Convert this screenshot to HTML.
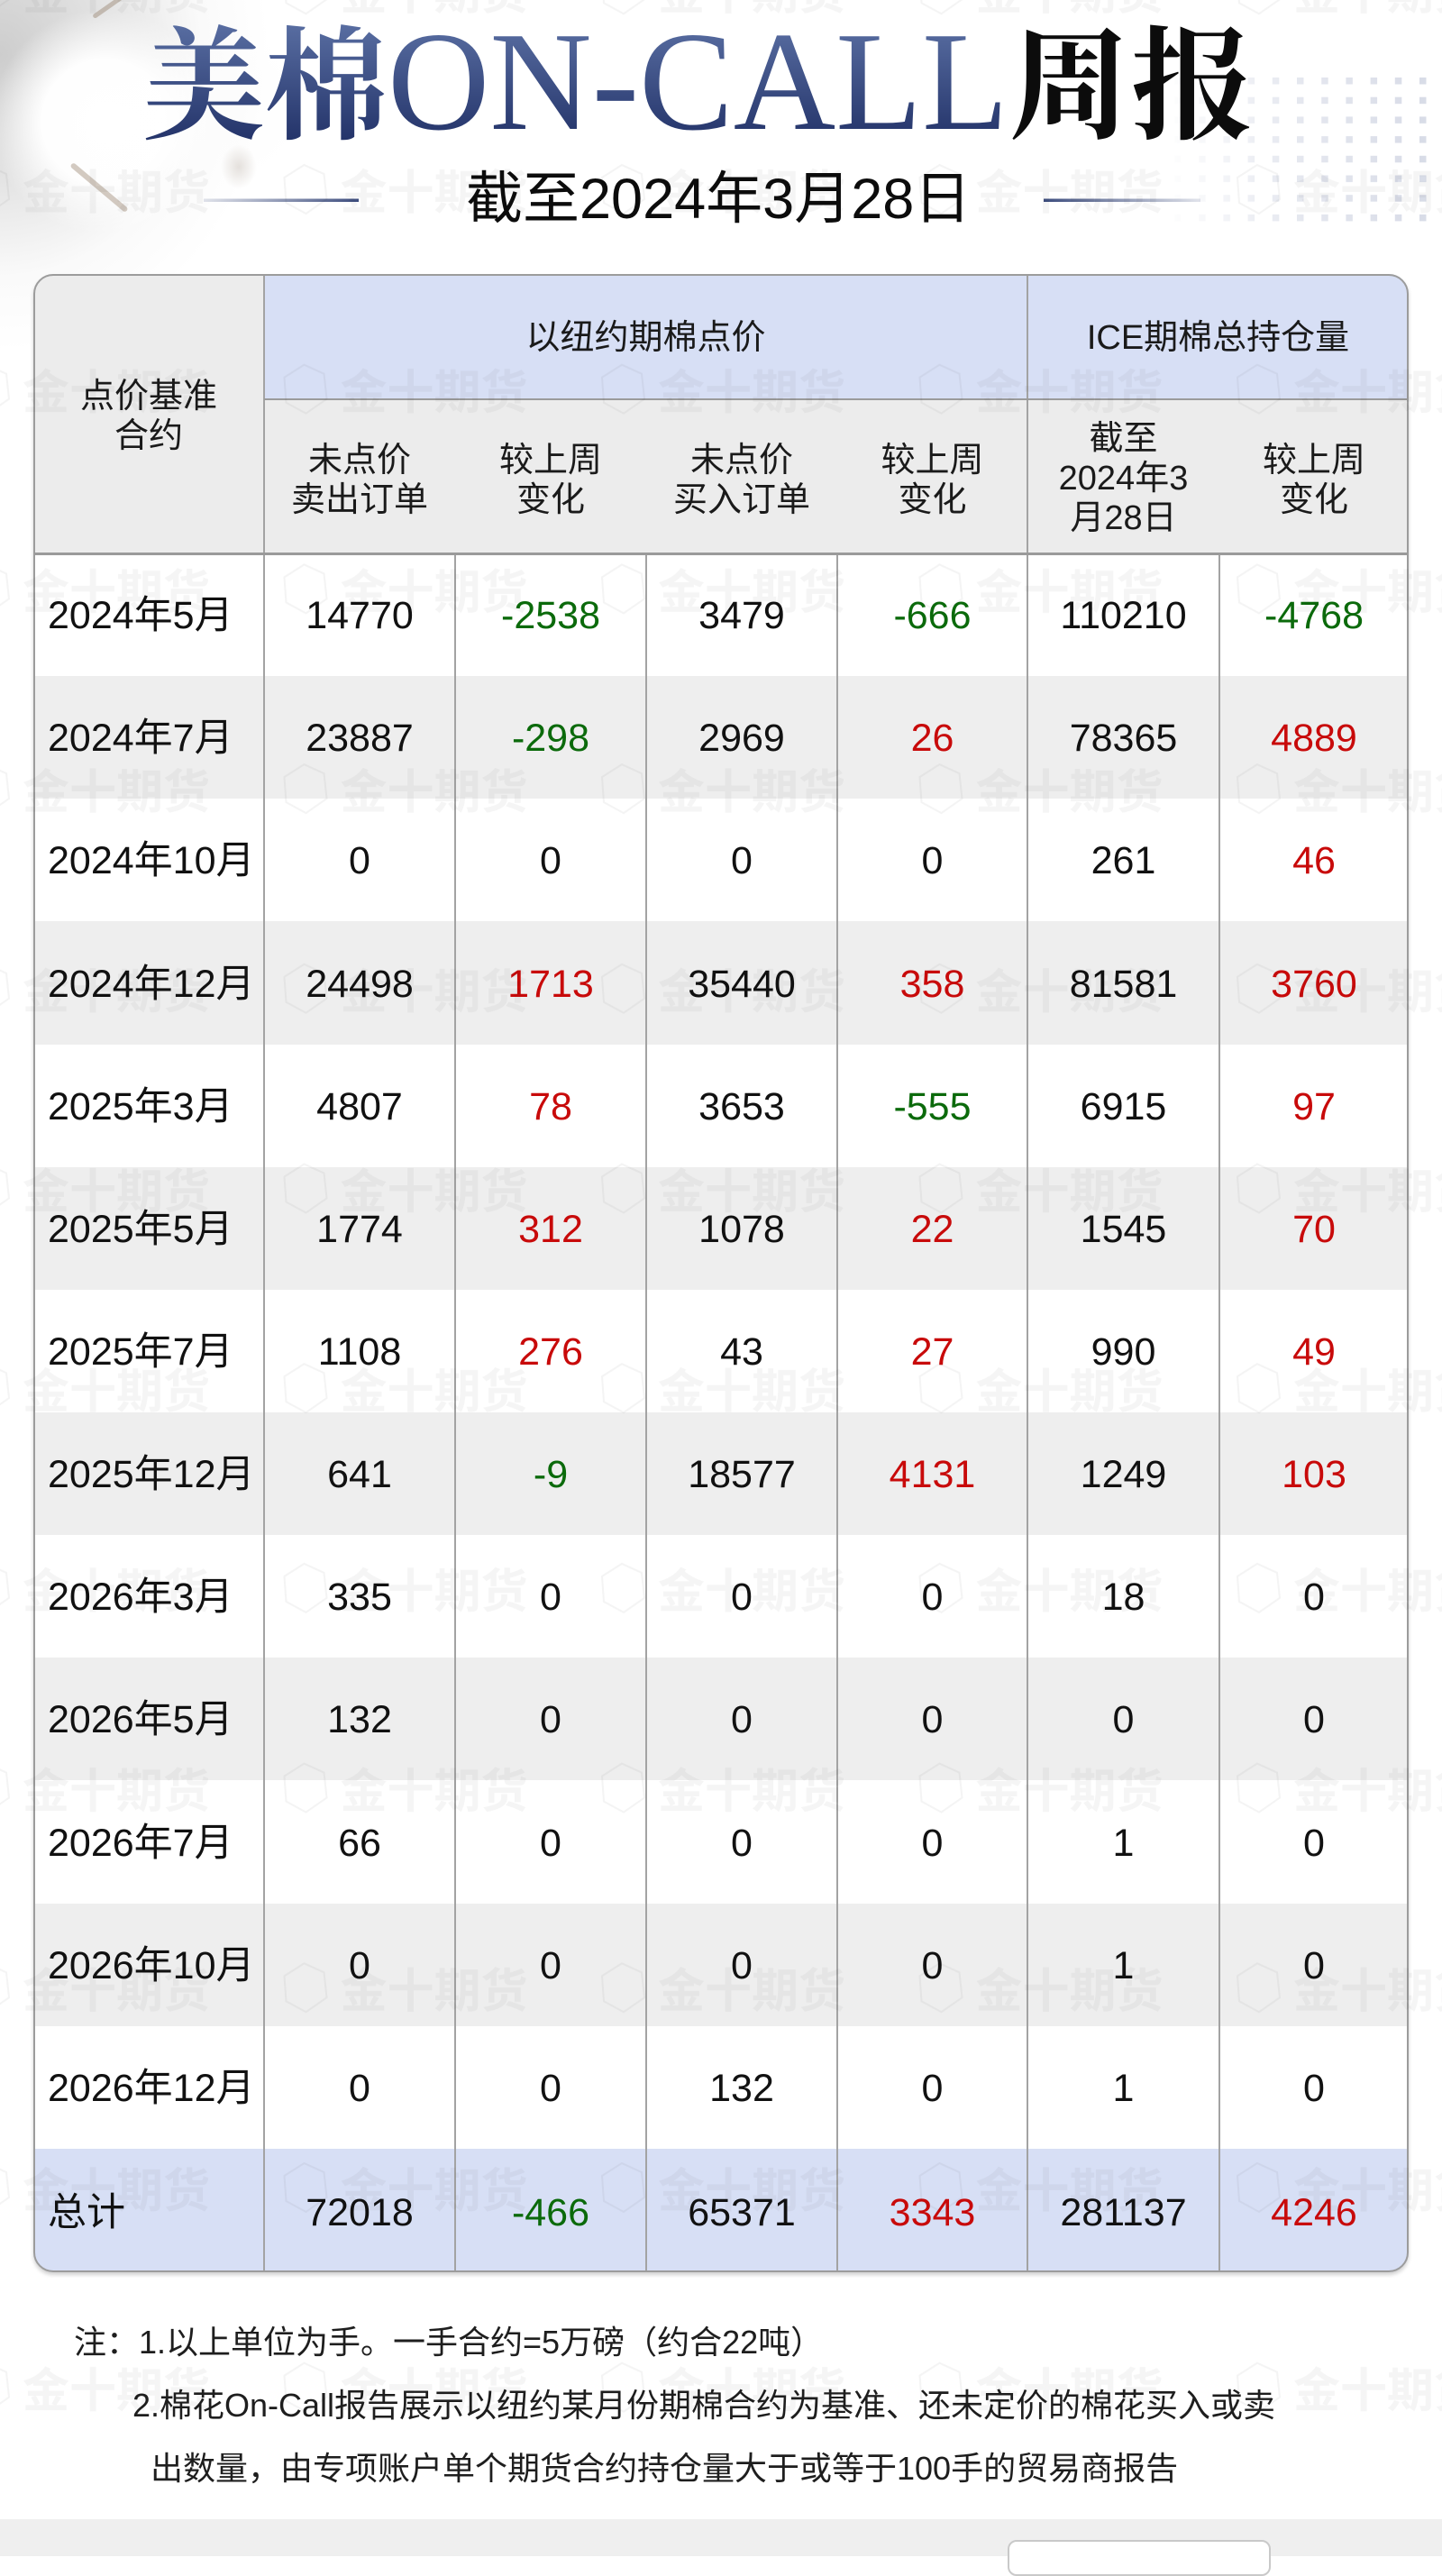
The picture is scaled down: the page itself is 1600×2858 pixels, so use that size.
<!DOCTYPE html>
<html>
<head>
<meta charset="utf-8">
<style>
  html,body{margin:0;padding:0;}
  body{width:1600px;height:2836px;position:relative;overflow:hidden;background:#fff;
       font-family:"Liberation Sans","Noto Sans CJK SC",sans-serif;color:#111;}
  .abs{position:absolute;}
  #clip{position:absolute;left:37px;top:304px;width:1526px;height:2217px;border-radius:22px;overflow:hidden;background:#fff;}
  .row{position:absolute;left:0;width:1526px;height:136.15px;display:grid;
       grid-template-columns:256px 212px 212px 212px 211px 213px 210px;}
  .row>div{display:flex;align-items:center;justify-content:center;font-size:43px;line-height:43px;color:#111;white-space:nowrap;padding-top:3px;}
  .row>div:first-child{justify-content:flex-start;padding-left:16px;}
  .w{background:#fff;}
  .k{background:#eeeeee;}
  .b{background:#d7dff5;}
  .g{color:#0b6a0b !important;}
  .r{color:#c80a0a !important;}
  .hc{position:absolute;display:flex;align-items:center;justify-content:center;text-align:center;
      font-size:38px;line-height:44px;color:#1a1a1a;box-sizing:border-box;}
  .vl{position:absolute;width:2px;background:#a3a3a3;}
  #border{position:absolute;left:37px;top:304px;width:1526px;height:2217px;box-sizing:border-box;
          border:2px solid #9c9c9c;border-radius:22px;box-shadow:0 3px 4px rgba(0,0,0,0.18);}
  .note{position:absolute;font-size:36px;color:#1e1e1e;white-space:nowrap;line-height:40px;}
</style>
</head>
<body>

<!-- cotton image approximation top-left -->
<div class="abs" style="left:0;top:0;width:480px;height:480px;
  background:
   radial-gradient(circle 125px at 115px 135px, rgba(255,255,255,1) 0, rgba(255,255,255,0.97) 55%, rgba(255,255,255,0) 100%),
   radial-gradient(ellipse 110px 90px at 230px 120px, rgba(252,252,252,0.9) 0, rgba(255,255,255,0) 100%),
   radial-gradient(ellipse 300px 330px at 0px 60px, rgba(205,205,205,1) 0, rgba(225,225,225,0.85) 45%, rgba(245,245,245,0.5) 75%, rgba(255,255,255,0) 100%);"></div>
<div class="abs" style="left:70px;top:205px;width:80px;height:6px;background:rgba(160,140,120,0.45);transform:rotate(40deg);border-radius:3px;"></div>
<div class="abs" style="left:100px;top:5px;width:40px;height:5px;background:rgba(150,130,110,0.45);transform:rotate(-35deg);border-radius:3px;"></div>
<div class="abs" style="left:245px;top:160px;width:40px;height:50px;background:radial-gradient(rgba(190,180,170,0.4),rgba(255,255,255,0) 70%);"></div>

<!-- header svg -->
<svg class="abs" style="left:0;top:0" width="1600" height="300" viewBox="0 0 1600 300">
  <defs>
    <linearGradient id="tg" x1="0" y1="20" x2="0" y2="155" gradientUnits="userSpaceOnUse">
      <stop offset="0" stop-color="#5b70a4"/>
      <stop offset="1" stop-color="#24346a"/>
    </linearGradient>
    <pattern id="dots" x="1303" y="86" width="27.2" height="21.7" patternUnits="userSpaceOnUse">
      <rect x="0" y="0" width="7.5" height="7.5" fill="#d6dae6"/>
    </pattern>
    <linearGradient id="fadeL" x1="0" y1="0" x2="1" y2="0">
      <stop offset="0" stop-color="#fff" stop-opacity="0"/>
      <stop offset="0.45" stop-color="#fff" stop-opacity="0.6"/>
      <stop offset="1" stop-color="#fff" stop-opacity="1"/>
    </linearGradient>
    <mask id="dm">
      <rect x="1290" y="80" width="310" height="175" fill="url(#fadeL)"/>
    </mask>
    <linearGradient id="ll" x1="226" y1="0" x2="398" y2="0" gradientUnits="userSpaceOnUse">
      <stop offset="0" stop-color="#3d4d7e" stop-opacity="0.15"/>
      <stop offset="1" stop-color="#3d4d7e" stop-opacity="1"/>
    </linearGradient>
    <linearGradient id="lr" x1="1158" y1="0" x2="1332" y2="0" gradientUnits="userSpaceOnUse">
      <stop offset="0" stop-color="#3d4d7e" stop-opacity="1"/>
      <stop offset="1" stop-color="#3d4d7e" stop-opacity="0.15"/>
    </linearGradient>
  </defs>
  <rect x="1290" y="80" width="300" height="175" fill="url(#dots)" mask="url(#dm)"/>
  <text x="158" y="143" style="white-space:pre"><tspan font-family="Noto Serif CJK SC, serif" font-weight="700" font-size="136" fill="url(#tg)">美棉</tspan><tspan font-family="Liberation Serif, serif" font-size="157" fill="url(#tg)">ON-CALL</tspan><tspan font-family="Noto Serif CJK SC, serif" font-weight="700" font-size="136" fill="#0c0c0c">周报</tspan></text>
  <rect x="226" y="220.5" width="172" height="3.5" fill="url(#ll)"/>
  <rect x="1158" y="220.5" width="174" height="3.5" fill="url(#lr)"/>
  <text x="517" y="242" font-family="Liberation Sans, Noto Sans CJK SC, sans-serif" font-size="63" fill="#0c0c0c">截至2024年3月28日</text>
</svg>

<!-- table -->
<div id="clip">
  <!-- header backgrounds -->
  <div class="abs" style="left:0;top:0;width:256px;height:310px;background:#ececec;"></div>
  <div class="abs" style="left:256px;top:0;width:1270px;height:139px;background:#d7dff5;"></div>
  <div class="abs" style="left:256px;top:139px;width:1270px;height:171px;background:#ececec;"></div>

  <div class="hc" style="left:0;top:0;width:256px;height:316px;">点价基准<br>合约</div>
  <div class="hc" style="left:256px;top:0;width:847px;height:141px;">以纽约期棉点价</div>
  <div class="hc" style="left:1103px;top:0;width:423px;height:141px;">ICE期棉总持仓量</div>
  <div class="hc" style="left:256px;top:139px;width:212px;height:171px;padding-top:8px;">未点价<br>卖出订单</div>
  <div class="hc" style="left:468px;top:139px;width:212px;height:171px;padding-top:8px;">较上周<br>变化</div>
  <div class="hc" style="left:680px;top:139px;width:212px;height:171px;padding-top:8px;">未点价<br>买入订单</div>
  <div class="hc" style="left:892px;top:139px;width:211px;height:171px;padding-top:8px;">较上周<br>变化</div>
  <div class="hc" style="left:1103px;top:139px;width:213px;height:171px;padding-top:4px;">截至<br>2024年3<br>月28日</div>
  <div class="hc" style="left:1316px;top:139px;width:210px;height:171px;padding-top:8px;">较上周<br>变化</div>

  <!-- data rows -->
  <div class="row w" style="top:310px;"><div>2024年5月</div><div>14770</div><div class="g">-2538</div><div>3479</div><div class="g">-666</div><div>110210</div><div class="g">-4768</div></div>
  <div class="row k" style="top:446.15px;"><div>2024年7月</div><div>23887</div><div class="g">-298</div><div>2969</div><div class="r">26</div><div>78365</div><div class="r">4889</div></div>
  <div class="row w" style="top:582.3px;"><div>2024年10月</div><div>0</div><div>0</div><div>0</div><div>0</div><div>261</div><div class="r">46</div></div>
  <div class="row k" style="top:718.45px;"><div>2024年12月</div><div>24498</div><div class="r">1713</div><div>35440</div><div class="r">358</div><div>81581</div><div class="r">3760</div></div>
  <div class="row w" style="top:854.6px;"><div>2025年3月</div><div>4807</div><div class="r">78</div><div>3653</div><div class="g">-555</div><div>6915</div><div class="r">97</div></div>
  <div class="row k" style="top:990.75px;"><div>2025年5月</div><div>1774</div><div class="r">312</div><div>1078</div><div class="r">22</div><div>1545</div><div class="r">70</div></div>
  <div class="row w" style="top:1126.9px;"><div>2025年7月</div><div>1108</div><div class="r">276</div><div>43</div><div class="r">27</div><div>990</div><div class="r">49</div></div>
  <div class="row k" style="top:1263.05px;"><div>2025年12月</div><div>641</div><div class="g">-9</div><div>18577</div><div class="r">4131</div><div>1249</div><div class="r">103</div></div>
  <div class="row w" style="top:1399.2px;"><div>2026年3月</div><div>335</div><div>0</div><div>0</div><div>0</div><div>18</div><div>0</div></div>
  <div class="row k" style="top:1535.35px;"><div>2026年5月</div><div>132</div><div>0</div><div>0</div><div>0</div><div>0</div><div>0</div></div>
  <div class="row w" style="top:1671.5px;"><div>2026年7月</div><div>66</div><div>0</div><div>0</div><div>0</div><div>1</div><div>0</div></div>
  <div class="row k" style="top:1807.65px;"><div>2026年10月</div><div>0</div><div>0</div><div>0</div><div>0</div><div>1</div><div>0</div></div>
  <div class="row w" style="top:1943.8px;"><div>2026年12月</div><div>0</div><div>0</div><div>132</div><div>0</div><div>1</div><div>0</div></div>
  <div class="row b" style="top:2079.95px;height:140px;"><div>总计</div><div>72018</div><div class="g">-466</div><div>65371</div><div class="r">3343</div><div>281137</div><div class="r">4246</div></div>

  <!-- grid lines -->
  <div class="vl" style="left:255px;top:0;height:2217px;"></div>
  <div class="vl" style="left:1102px;top:0;height:2217px;"></div>
  <div class="vl" style="left:467px;top:310px;height:1907px;"></div>
  <div class="vl" style="left:679px;top:310px;height:1907px;"></div>
  <div class="vl" style="left:891px;top:310px;height:1907px;"></div>
  <div class="vl" style="left:1315px;top:310px;height:1907px;"></div>
  <div class="abs" style="left:256px;top:138px;width:1270px;height:2px;background:#9b9b9b;"></div>
  <div class="abs" style="left:0;top:308.5px;width:1526px;height:3px;background:#9a9a9a;"></div>
</div>
<div id="border"></div>

<!-- notes -->
<div class="note" style="left:82px;top:2579px;">注：1.以上单位为手。一手合约=5万磅（约合22吨）</div>
<div class="note" style="left:147px;top:2649px;">2.棉花On-Call报告展示以纽约某月份期棉合约为基准、还未定价的棉花买入或卖</div>
<div class="note" style="left:167px;top:2719px;">出数量，由专项账户单个期货合约持仓量大于或等于100手的贸易商报告</div>

<!-- bottom band -->
<div class="abs" style="left:0;top:2795px;width:1600px;height:41px;background:#efefef;"></div>
<div class="abs" style="left:1118px;top:2818px;width:292px;height:40px;background:#fff;border:2px solid #c9c9c9;border-radius:10px;box-sizing:border-box;"></div>

<!-- watermark -->
<svg class="abs" style="left:0;top:0;pointer-events:none" width="1600" height="2836" viewBox="0 0 1600 2836">
  <defs>
    <pattern id="wm" x="-45" y="163" width="352.5" height="221.7" patternUnits="userSpaceOnUse">
      <polygon points="30,20 52,30 55,58 32,74 10,62 8,34" fill="none" stroke="rgba(0,0,0,0.045)" stroke-width="2"/>
      <text x="70" y="69" font-family="Noto Sans CJK SC, sans-serif" font-weight="700" font-size="52" fill="rgba(0,0,0,0.04)">金十期货</text>
    </pattern>
  </defs>
  <rect x="0" y="0" width="1600" height="2790" fill="url(#wm)"/>
</svg>

</body>
</html>
